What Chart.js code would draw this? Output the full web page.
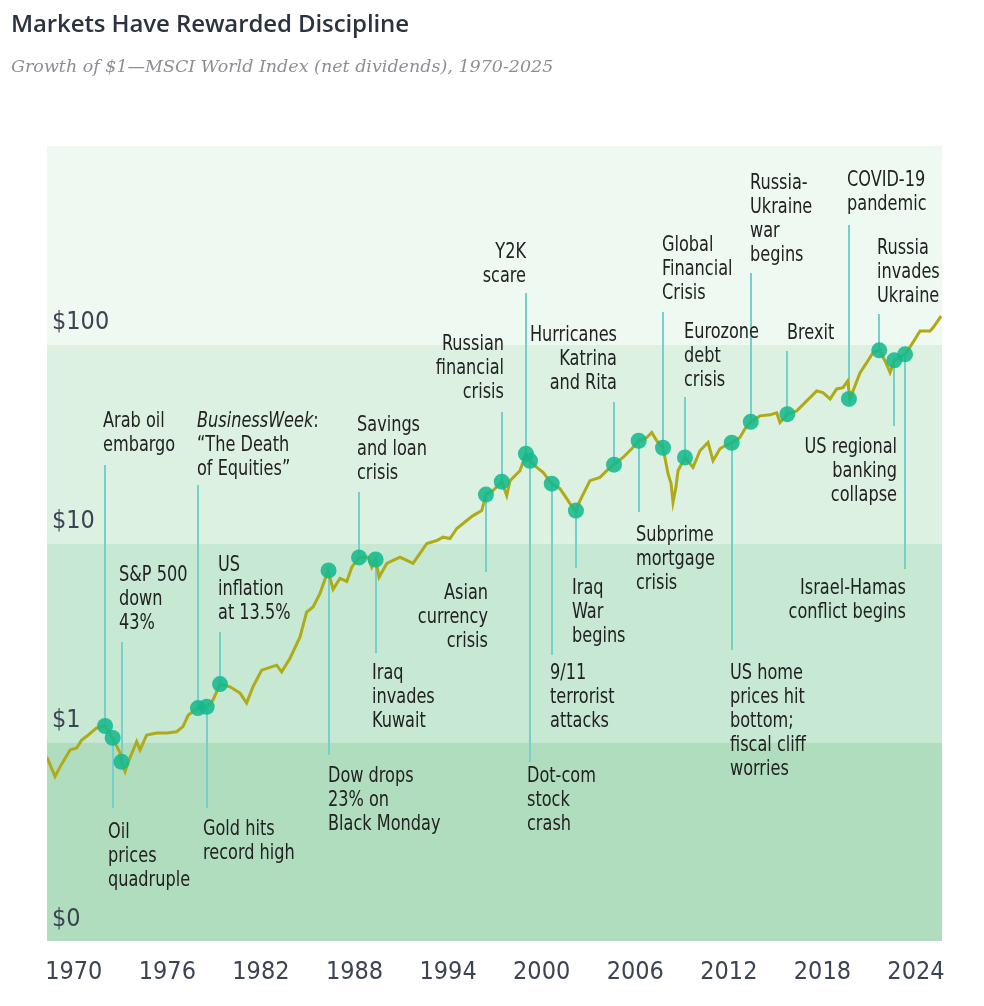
<!DOCTYPE html>
<html>
<head>
<meta charset="utf-8">
<script src="https://cdn.jsdelivr.net/npm/chart.js@4.4.0/dist/chart.umd.min.js"></script>
<style>
  body { margin: 0; background: #fff; width: 984px; height: 1006px; position: relative; overflow: hidden; }
  #grafico { position: absolute; left: 0; top: 0; }
  #titulo { position: absolute; left: 11px; top: 8px; font: 600 24px "Open Sans", sans-serif; color: #2b3240; line-height: 30px; white-space: nowrap; letter-spacing: -0.1px; }
  #subtitulo { position: absolute; left: 11px; top: 55px; font: italic 17.5px "DejaVu Serif", serif; color: #8b8f95; line-height: 22px; white-space: nowrap; }
</style>
</head>
<body>
<canvas id="grafico" width="984" height="1006"></canvas>
<div id="titulo">Markets Have Rewarded Discipline</div>
<div id="subtitulo">Growth of $1—MSCI World Index (net dividends), 1970-2025</div>
<script>
// Crescimento de $1 (ano, valor do indice)
const anos = [
  1970.00, 1970.50, 1970.81, 1971.43, 1971.84, 1972.15, 1972.56, 1973.08, 1973.60, 1974.07,
  1974.53, 1974.62, 1974.84, 1975.09, 1975.56, 1975.77, 1976.18, 1976.80, 1977.42, 1978.04,
  1978.43, 1978.76, 1979.36, 1979.90, 1980.29, 1980.73, 1981.35, 1981.97, 1982.38, 1982.77,
  1983.31, 1984.24, 1984.55, 1985.07, 1985.69, 1986.10, 1986.50, 1986.93, 1987.43, 1987.74,
  1988.17, 1988.59, 1988.90, 1989.35, 1989.91, 1990.14, 1990.38, 1990.59, 1991.07, 1991.89,
  1992.31, 1992.70, 1993.13, 1993.55, 1994.17, 1994.56, 1994.99, 1995.41, 1996.03, 1996.42,
  1996.96, 1997.22, 1997.66, 1998.20, 1998.51, 1998.71, 1999.33, 1999.70, 1999.95, 2000.37,
  2000.76, 2001.30, 2001.81, 2002.23, 2002.43, 2002.80, 2003.05, 2003.67, 2004.29, 2004.71,
  2005.16, 2005.72, 2006.26, 2006.69, 2007.19, 2007.50, 2007.81, 2008.20, 2008.51, 2008.70,
  2008.82, 2009.00, 2009.13, 2009.56, 2010.06, 2010.49, 2010.99, 2011.30, 2011.73, 2012.04,
  2012.46, 2012.97, 2013.28, 2013.64, 2014.21, 2014.83, 2015.25, 2015.45, 2015.91, 2016.49,
  2017.11, 2017.73, 2018.12, 2018.56, 2018.97, 2019.36, 2019.65, 2019.80, 2019.98, 2020.42,
  2020.83, 2021.22, 2021.61, 2021.97, 2022.28, 2022.54, 2023.21, 2023.62, 2024.14, 2024.76,
  2024.94, 2025.44
];
const valores = [
  0.840, 0.672, 0.752, 0.915, 0.936, 1.027, 1.088, 1.180, 1.207, 1.051,
  0.884, 0.797, 0.712, 0.815, 1.007, 0.915, 1.088, 1.113, 1.113, 1.130,
  1.198, 1.371, 1.486, 1.509, 1.630, 1.961, 1.901, 1.768, 1.575, 1.901,
  2.306, 2.443, 2.261, 2.649, 3.388, 4.520, 4.790, 5.613, 7.318, 5.879,
  6.673, 6.447, 7.604, 8.507, 8.537, 7.604, 8.313, 6.774, 7.935, 8.537,
  8.217, 7.935, 8.909, 10.00, 10.35, 10.76, 10.59, 11.90, 13.05, 13.82,
  14.64, 17.62, 18.45, 20.47, 17.42, 20.71, 23.24, 28.29, 26.09, 24.15,
  22.79, 20.00, 18.88, 16.82, 15.87, 14.64, 16.44, 20.71, 21.51, 23.24,
  24.92, 27.10, 29.98, 32.88, 34.15, 36.17, 32.88, 30.33, 22.45, 20.00,
  16.11, 19.16, 23.24, 27.10, 24.15, 29.29, 32.24, 26.09, 29.98, 31.02,
  32.13, 34.15, 37.76, 40.94, 43.87, 44.39, 45.42, 40.61, 44.75, 46.49,
  52.19, 58.58, 57.42, 53.41, 59.95, 60.86, 65.76, 53.41, 58.58, 72.38,
  81.24, 91.17, 93.75, 82.84, 72.38, 83.51, 89.48, 100.5, 117.2, 117.2,
  121.7, 139.3
];

// Eventos marcados com bolinhas
const anosEventos = [
  1973.60, 1974.07, 1974.62, 1979.36, 1979.90, 1980.73, 1987.46, 1989.35, 1990.38, 1997.22,
  1998.20, 1999.70, 1999.95, 2001.30, 2002.80, 2005.16, 2006.69, 2008.20, 2009.56, 2012.46,
  2013.64, 2015.91, 2019.73, 2021.61, 2022.54, 2023.21
];
const valoresEventos = [
  1.207, 1.051, 0.797, 1.486, 1.509, 1.961, 7.32, 8.51, 8.31, 17.62,
  20.47, 28.29, 26.09, 20.00, 14.64, 24.92, 32.88, 30.33, 27.10, 32.13,
  40.94, 44.75, 53.4, 93.75, 83.51, 89.48
];
const textosEventos = [
  ['Arab oil', 'embargo'],
  ['Oil', 'prices', 'quadruple'],
  ['S&P 500', 'down', '43%'],
  ['*BusinessWeek*:', '\u201cThe Death', 'of Equities\u201d'],
  ['Gold hits', 'record high'],
  ['US', 'inflation', 'at 13.5%'],
  ['Dow drops', '23% on', 'Black Monday'],
  ['Savings', 'and loan', 'crisis'],
  ['Iraq', 'invades', 'Kuwait'],
  ['Asian', 'currency', 'crisis'],
  ['Russian', 'financial', 'crisis'],
  ['Y2K', 'scare'],
  ['Dot-com', 'stock', 'crash'],
  ['9/11', 'terrorist', 'attacks'],
  ['Iraq', 'War', 'begins'],
  ['Hurricanes', 'Katrina', 'and Rita'],
  ['Subprime', 'mortgage', 'crisis'],
  ['Global', 'Financial', 'Crisis'],
  ['Eurozone', 'debt', 'crisis'],
  ['US home', 'prices hit', 'bottom;', 'fiscal cliff', 'worries'],
  ['Russia-', 'Ukraine', 'war', 'begins'],
  ['Brexit'],
  ['COVID-19', 'pandemic'],
  ['Russia', 'invades', 'Ukraine'],
  ['US regional', 'banking', 'collapse'],
  ['Israel-Hamas', 'conflict begins']
];

// Eixos
const rotulosEixoX = ['1970', '1976', '1982', '1988', '1994', '2000', '2006', '2012', '2018', '2024'];
const valoresEixoY = [0.1, 1, 10, 100];
const rotulosEixoY = ['$0', '$1', '$10', '$100'];
const limitesFaixas = [0.1, 1, 10, 100, 1000];

// Posicao dos textos (x, y da primeira linha, alinhamento, fim da linha guia em px)
const posicoesTextos = [
  [103, 421, 'left', 465], [108, 832, 'left', 808], [119, 575, 'left', 642],
  [197, 421, 'left', 485], [203, 829, 'left', 808], [218, 565, 'left', 632],
  [328, 776, 'left', 755], [357, 425, 'left', 492], [372, 673, 'left', 653],
  [488, 593, 'right', 572], [504, 344, 'right', 412], [526, 252, 'right', 293],
  [527, 776, 'left', 762], [550, 673, 'left', 655], [572, 588, 'left', 568],
  [617, 335, 'right', 402], [636, 535, 'left', 512], [662, 245, 'left', 312],
  [684, 332, 'left', 397], [730, 673, 'left', 650], [750, 183, 'left', 273],
  [787, 333, 'left', 351], [847, 180, 'left', 225], [877, 248, 'left', 314],
  [897, 447, 'right', 426], [906, 588, 'right', 569]
];

const coresFaixas = ['#b1ddbf', '#c7e8d2', '#dcf1e2', '#eef9f1'];
const fonteEstreita = '"DejaVu Sans Condensed", "DejaVu Sans", sans-serif';
const aperto = 0.815; // fonte do original e bem condensada

// Faixas de fundo (antes dos eixos, para os rotulos do eixo Y ficarem por cima)
const pluginFaixas = {
  id: 'faixas',
  beforeDraw(chart) {
    const { ctx, chartArea, scales } = chart;
    ctx.save();
    for (let i = 0; i < limitesFaixas.length - 1; i++) {
      const y0 = scales.y.getPixelForValue(limitesFaixas[i]);
      const y1 = scales.y.getPixelForValue(limitesFaixas[i + 1]);
      ctx.fillStyle = coresFaixas[i];
      ctx.fillRect(chartArea.left, y1, chartArea.right - chartArea.left, y0 - y1);
    }
    ctx.restore();
  },
  beforeDatasetsDraw(chart) {
    // linhas guia dos eventos
    const { ctx } = chart;
    const pontos = chart.getDatasetMeta(0).data;
    ctx.save();
    ctx.strokeStyle = '#74d0cb';
    ctx.lineWidth = 2;
    pontos.forEach((p, i) => {
      ctx.beginPath();
      ctx.moveTo(Math.round(p.x), p.y);
      ctx.lineTo(Math.round(p.x), posicoesTextos[i][3]);
      ctx.stroke();
    });
    ctx.restore();
  },
  afterDatasetsDraw(chart) {
    const { ctx } = chart;
    ctx.save();
    ctx.fillStyle = '#222222';
    ctx.textBaseline = 'middle';
    textosEventos.forEach((linhas, i) => {
      const [x, y, alinh] = posicoesTextos[i];
      linhas.forEach((linha, j) => {
        const yl = y + j * 24;
        ctx.save();
        ctx.translate(x, yl);
        ctx.scale(aperto, 1);
        if (linha.startsWith('*')) {
          // parte em italico
          const partes = linha.split('*');
          ctx.textAlign = 'left';
          ctx.font = 'italic 22px ' + fonteEstreita;
          ctx.fillText(partes[1], 0, 0);
          const largura = ctx.measureText(partes[1]).width;
          ctx.font = '22px ' + fonteEstreita;
          ctx.fillText(partes[2], largura, 0);
        } else {
          ctx.font = '22px ' + fonteEstreita;
          ctx.textAlign = alinh;
          ctx.fillText(linha, 0, 0);
        }
        ctx.restore();
      });
    });
    ctx.restore();
  }
};

const config = {
  type: 'line',
  data: {
    datasets: [{
      label: 'Eventos',
      data: anosEventos.map((a, i) => ({ x: a, y: valoresEventos[i] })),
      showLine: false,
      pointRadius: 8,
      pointBackgroundColor: 'rgba(20,184,142,0.88)',
      pointBorderWidth: 0,
      order: 0
    }, {
      label: 'MSCI World',
      data: anos.map((a, i) => ({ x: a, y: valores[i] })),
      borderColor: '#b0aa17',
      borderWidth: 3,
      pointRadius: 0,
      tension: 0,
      fill: false,
      order: 1
    }]
  },
  options: {
    responsive: false,
    animation: false,
    events: [],
    layout: { padding: { left: 47, right: 42, top: 146, bottom: 0 } },
    plugins: { legend: { display: false }, tooltip: { enabled: false } },
    scales: {
      x: { type: 'linear', min: 1970, max: 2025.5, display: false },
      xt: {
        type: 'linear', position: 'bottom', min: -0.286, max: 9.278,
        grid: { display: false, drawTicks: false },
        border: { display: false },
        afterBuildTicks: (eixo) => { eixo.ticks = rotulosEixoX.map((r, i) => ({ value: i })); },
        afterFit: (eixo) => { eixo.height = 65; },
        ticks: {
          autoSkip: false, maxRotation: 0, padding: 16,
          color: '#3c4454',
          font: { family: fonteEstreita, size: 25 },
          callback: (v) => rotulosEixoX[v]
        }
      },
      y: {
        type: 'logarithmic', position: 'left', min: 0.1, max: 1000,
        grid: { display: false, drawTicks: false },
        border: { display: false },
        afterBuildTicks: (eixo) => { eixo.ticks = valoresEixoY.map(v => ({ value: v })); },
        afterFit: (eixo) => { eixo.width = 0; },
        ticks: {
          mirror: true, padding: 5, labelOffset: -22,
          color: '#3c4454',
          font: { family: fonteEstreita, size: 25 },
          callback: (v) => {
            const i = valoresEixoY.indexOf(v);
            return i >= 0 ? rotulosEixoY[i] : '';
          }
        }
      }
    }
  },
  plugins: [pluginFaixas]
};

let grafico = new Chart(document.getElementById('grafico'), config);
</script>
</body>
</html>
